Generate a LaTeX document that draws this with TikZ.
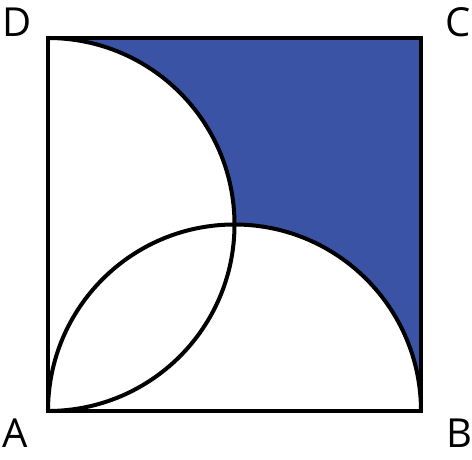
\documentclass[tikz,border=0pt]{standalone}
\usepackage{fontspec}
\setmainfont{Open Sans}
\definecolor{regionblue}{RGB}{59,83,164}
\begin{document}
\begin{tikzpicture}[x=1pt,y=1pt,
  edge/.style={line width=4pt,line join=miter},
  lbl/.style={anchor=base,inner sep=0pt,font=\fontsize{40}{40}\selectfont}]
\useasboundingbox (0,0) rectangle (472,460);
\coordinate (A) at (48,49);
\coordinate (B) at (421,49);
\coordinate (C) at (421,422);
\coordinate (D) at (48,422);
\coordinate (O) at (234.5,235.5);
% shaded region
\fill[regionblue] (D) -- (C) -- (B) arc[start angle=0,end angle=90,radius=186.5] arc[start angle=0,end angle=90,radius=186.5] -- cycle;
% semicircles
\draw[edge] (B) arc[start angle=0,end angle=180,radius=186.5];
\draw[edge] (A) arc[start angle=-90,end angle=90,radius=186.5];
% square
\draw[edge] (A) -- (B) -- (C) -- (D) -- cycle;
% labels
\node[lbl] (la) at (15,12) {A};
\node[lbl] (lb) at (459,12) {B};
\node[lbl] (lc) at (458,423.5) {C};
\node[lbl] (ld) at (17.5,423) {D};
\end{tikzpicture}
\end{document}
